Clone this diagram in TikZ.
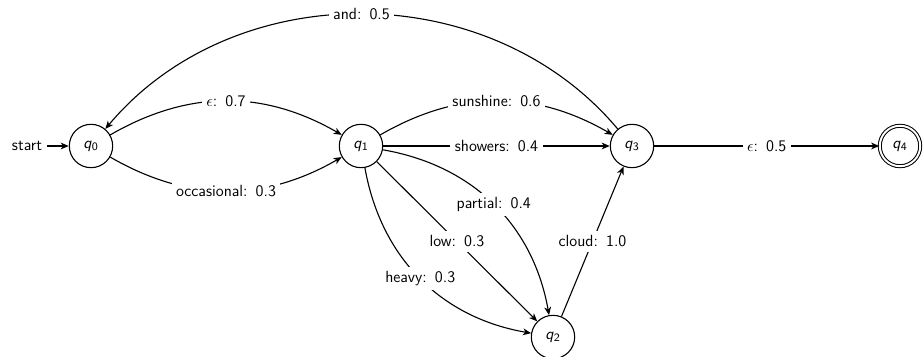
\documentclass[tikz,border=0pt]{standalone}
\usetikzlibrary{arrows.meta}
\begin{document}
\begin{tikzpicture}[x=0.68pt,y=0.68pt,font=\fontsize{11}{13}\selectfont\sffamily,
  fsmstate/.style={circle,draw,line width=0.75pt,minimum size=29.5pt,inner sep=0pt},
  acceptstate/.style={circle,draw,line width=0.7pt,double,double distance=1.3pt,minimum size=27.5pt,inner sep=0pt},
  edge/.style={line width=0.75pt,-{Stealth[length=5.5pt,width=4.6pt,inset=1.6pt]}},
  lbl/.style={fill=white,inner sep=3pt}]
\useasboundingbox (0,0) rectangle (923,357);
\newcommand{\stname}[1]{\textit{q}\textsubscript{#1}}
% states
\node[fsmstate] (q0) at (91,211) {\stname{0}};
\node[fsmstate] (q1) at (361,211) {\stname{1}};
\node[fsmstate] (q3) at (632,211) {\stname{3}};
\node[acceptstate] (q4) at (900,211) {\stname{4}};
\node[fsmstate] (q2) at (553,20) {\stname{2}};
\node (start) at (27,211) {start};
% transitions
\draw[edge] (start) -- (q0);
\draw[edge] (q0) to[bend left=30] node[lbl] {$\epsilon$:\enspace0.7} (q1);
\draw[edge] (q0) to[bend right=30] node[lbl] {occasional:\enspace0.3} (q1);
\draw[edge] (q1) to[bend left=30] node[lbl] {sunshine:\enspace0.6} (q3);
\draw[edge] (q1) -- node[lbl] {showers:\enspace0.4} (q3);
\draw[edge] (q3) to[bend right=50] node[lbl] {and:\enspace0.5} (q0);
\draw[edge] (q3) -- node[lbl] {$\epsilon$:\enspace0.5} (q4);
\draw[edge] (q1) to[bend left=35] node[lbl] {partial:\enspace0.4} (q2);
\draw[edge] (q1) -- node[lbl] {low:\enspace0.3} (q2);
\draw[edge] (q1) to[bend right=35] node[lbl] {heavy:\enspace0.3} (q2);
\draw[edge] (q2) -- node[lbl] {cloud:\enspace1.0} (q3);
\end{tikzpicture}
\end{document}
